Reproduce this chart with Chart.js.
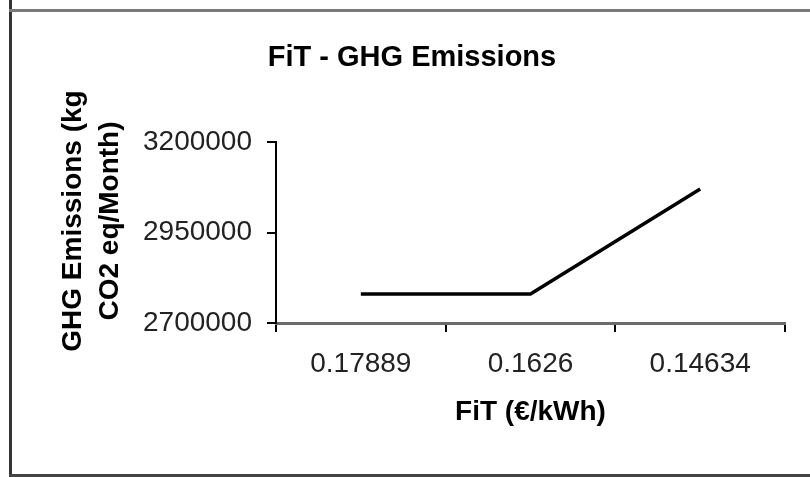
<!DOCTYPE html>
<html>
<head>
<meta charset="utf-8">
<script src="https://cdn.jsdelivr.net/npm/chart.js@4.4.1/dist/chart.umd.min.js"></script>
<style>
  html, body { margin: 0; padding: 0; background: #fff; }
  #wrap { position: relative; width: 810px; height: 477px; overflow: hidden; }
  canvas { position: absolute; left: 0; top: 0; }
  .ln { position: absolute; }
</style>
</head>
<body>
<div id="wrap">
  <canvas id="c" width="810" height="477"></canvas>
  <div class="ln" style="left:9px; top:0; width:3px; height:477px; background:#333;"></div>
  <div class="ln" style="left:9px; top:9px; width:801px; height:3px; background:#7a7a7a;"></div>
  <div class="ln" style="left:9px; top:474px; width:801px; height:3px; background:#444;"></div>
</div>
<script>
const chartTitle = "FiT - GHG Emissions";
const xAxisTitle = "FiT (€/kWh)";
const yAxisTitleLines = ["GHG Emissions (kg", "CO2 eq/Month)"];
const categories = ["0.17889", "0.1626", "0.14634"];
const emissions = [2780000, 2780000, 3070000];
const yMin = 2700000;
const yMax = 3200000;
const yStep = 250000;

const FONT = "'Liberation Sans', Arial, sans-serif";

const textPlugin = {
  id: 'texts',
  afterDraw(chart) {
    const ctx = chart.ctx;
    ctx.save();
    ctx.fillStyle = "#000";
    ctx.textAlign = "center";
    ctx.textBaseline = "middle";
    ctx.font = "bold 29px " + FONT;
    ctx.fillText(chartTitle, 412, 58);
    ctx.font = "bold 28px " + FONT;
    const xs = [73, 110];
    yAxisTitleLines.forEach((t, i) => {
      ctx.save();
      ctx.translate(xs[i], 221);
      ctx.rotate(-Math.PI / 2);
      ctx.fillText(t, 0, 0);
      ctx.restore();
    });
    ctx.restore();
  }
};

new Chart(document.getElementById('c'), {
  type: 'line',
  data: {
    labels: categories,
    datasets: [{
      data: emissions,
      borderColor: '#000',
      borderWidth: 3.5,
      pointRadius: 0,
      tension: 0,
      fill: false
    }]
  },
  options: {
    responsive: false,
    animation: false,
    layout: { padding: { left: 0, right: 25, top: 142, bottom: 0 } },
    plugins: {
      legend: { display: false },
      tooltip: { enabled: false },
      title: { display: false }
    },
    scales: {
      x: {
        type: 'category',
        offset: true,
        grid: { offset: true, drawOnChartArea: false, drawTicks: true, tickLength: 9, color: '#000', lineWidth: 2 },
        border: { display: true, color: '#6a6a6a', width: 3 },
        ticks: { color: '#222', font: { family: FONT, size: 28 }, padding: 15, maxRotation: 0 },
        title: {
          display: true,
          text: xAxisTitle,
          color: '#000',
          font: { family: FONT, size: 28, weight: 'bold' },
          padding: { top: 0, bottom: 48 }
        },
        afterFit(s) { s.height = 154; }
      },
      y: {
        min: yMin,
        max: yMax,
        grid: { drawOnChartArea: false, drawTicks: true, tickLength: 9, color: '#000', lineWidth: 2 },
        border: { display: true, color: '#000', width: 2 },
        ticks: {
          stepSize: yStep,
          color: '#222',
          font: { family: FONT, size: 28 },
          padding: 15,
          callback: (v) => String(v)
        },
        afterFit(s) { s.width = 276; }
      }
    }
  },
  plugins: [textPlugin]
});
</script>
</body>
</html>
